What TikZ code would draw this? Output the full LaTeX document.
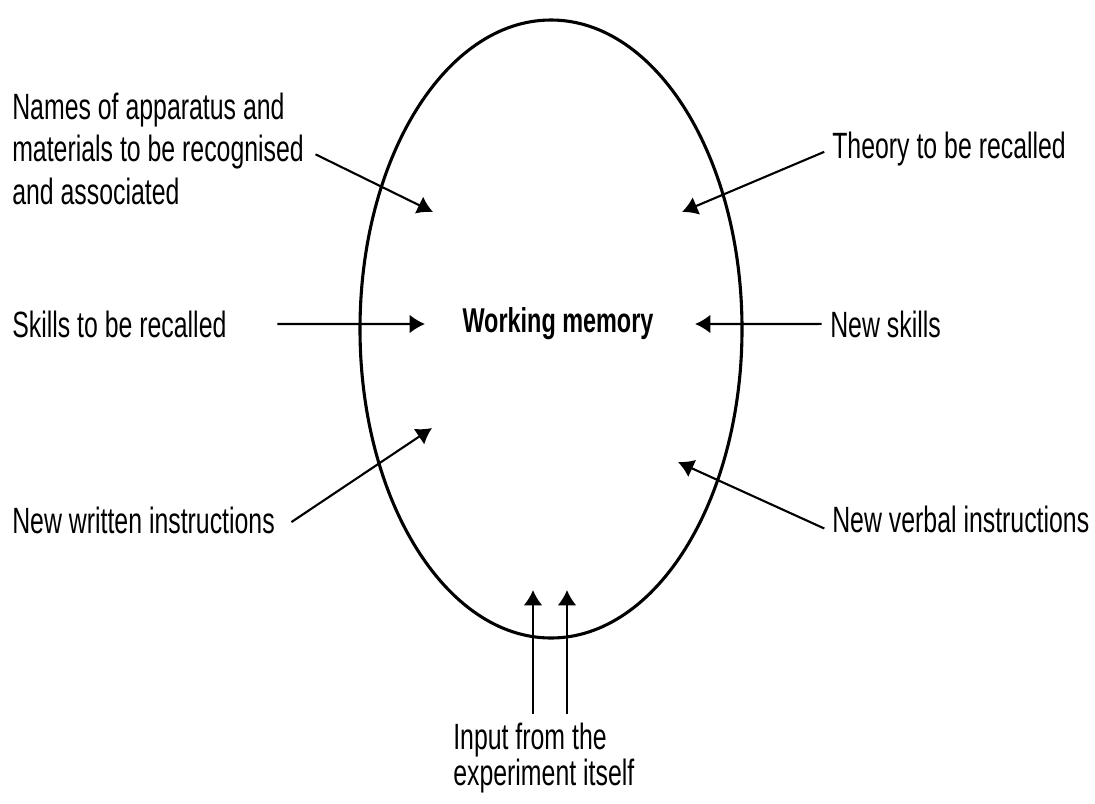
\documentclass[tikz,border=0pt]{standalone}
\usepackage{fontspec}
\setmainfont{Liberation Sans}[FakeStretch=0.68]
\usetikzlibrary{positioning, arrows.meta}

\begin{document}
\begin{tikzpicture}[x=0.025cm, y=-0.025cm, >={Latex[length=11pt,width=13.5pt]},
  lbl/.style={inner sep=0pt, anchor=base west, align=left,
    font=\fontsize{26}{30}\selectfont},
  feed/.style={->, line width=1.5pt},
  mem/.style={line width=2.2pt}]
  \useasboundingbox (0,0) rectangle (1095,803);

  % --- Working memory ---
  \draw[mem] (551,329) ellipse [x radius=191, y radius=309];
  \node[lbl, anchor=base, font=\bfseries\fontsize{24.5}{30}\selectfont] (wm) at (558,332) {Working memory};

  % --- Left inputs (base = last line) ---
  \node[lbl] (names) at (12,204) {Names of apparatus and\\materials to be recognised\\and associated};
  \node[lbl] (skills) at (12,337) {Skills to be recalled};
  \node[lbl] (written) at (12,533) {New written instructions};

  % --- Right inputs ---
  \node[lbl] (theory) at (832,158) {Theory to be recalled};
  \node[lbl] (newskills) at (830,337) {New skills};
  \node[lbl] (verbal) at (832,532) {New verbal instructions};

  % --- Bottom input ---
  \node[lbl, font=\fontsize{26}{25.5}\selectfont] (input) at (453,785) {Input from the\\experiment itself};

  % arrow tips inside the ellipse
  \coordinate (tipNames) at (433,212);
  \coordinate (tipSkills) at (425,324);
  \coordinate (tipWritten) at (432,428);
  \coordinate (tipTheory) at (682,212);
  \coordinate (tipNew) at (695,324);
  \coordinate (tipVerbal) at (678,462);
  \coordinate (tipInA) at (533,590);
  \coordinate (tipInB) at (567,590);

  % --- Arrows ---
  \draw[feed, shorten <=9pt] (names.east) -- (tipNames);
  \draw[feed, shorten <=36pt] (skills.east) -- (tipSkills);
  \draw[feed, shorten <=14pt] (written.base east) -- (tipWritten);
  \draw[feed, shorten <=6pt] (theory.west) -- (tipTheory);
  \draw[feed, shorten <=6pt] (newskills.west) -- (tipNew);
  \draw[feed, shorten <=6pt] (verbal.base west) -- (tipVerbal);
  \draw[feed, shorten <=6pt] (input.north -| tipInA) -- (tipInA);
  \draw[feed, shorten <=6pt] (input.north -| tipInB) -- (tipInB);

\end{tikzpicture}
\end{document}
